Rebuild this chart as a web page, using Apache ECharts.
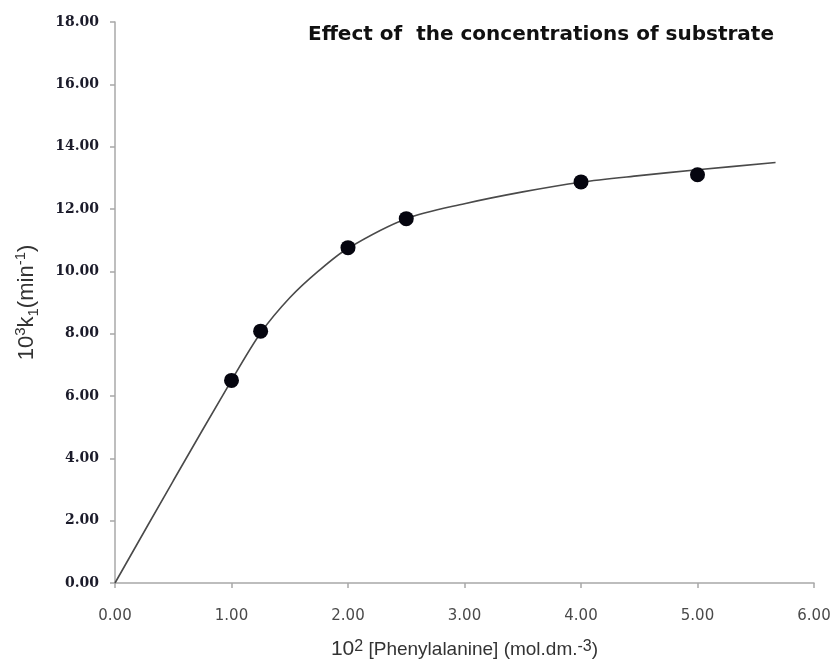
<!DOCTYPE html>
<html>
<head>
<meta charset="utf-8">
<title>Effect of the concentrations of substrate</title>
<script src="https://cdn.jsdelivr.net/npm/echarts@6/dist/echarts.min.js"></script>
<style>
  html, body { margin: 0; padding: 0; background: #fff; }
  #main { width: 835px; height: 661px; }
</style>
</head>
<body>
<div id="main"></div>
<script>
// measured points: 10^2 [Phe] vs 10^3 k1
var obsConc = [1.0, 1.25, 2.0, 2.5, 4.0, 5.0];
var obsRate = [6.50, 8.08, 10.76, 11.69, 12.87, 13.10];

// fitted curve
var fitConc = [0, 0.5, 1.0, 1.25, 1.5, 1.75, 2.0, 2.5, 3.0, 3.5, 4.0, 4.5, 5.0, 5.67];
var fitRate = [0, 3.28, 6.50, 8.02, 9.15, 10.02, 10.74, 11.69, 12.17, 12.55, 12.86, 13.07, 13.26, 13.49];

var chartDom = document.getElementById("main");
var myChart = echarts.init(chartDom);
var option;

var axisGrey = "#a8a8a8";

option = {
  backgroundColor: "#fff",
  animation: false,
  title: {
    text: "Effect of  the concentrations of substrate",
    left: 303,
    top: 20,
    textStyle: {
      fontFamily: "DejaVu Sans",
      fontSize: 20,
      fontWeight: "bold",
      color: "#111",
    },
  },
  grid: {
    left: 115,
    right: 21,
    top: 22,
    bottom: 78,
    outerBoundsMode: "none",
  },
  xAxis: {
    type: "value",
    min: 0,
    max: 6,
    interval: 1,
    splitLine: { show: false },
    axisLine: { lineStyle: { color: axisGrey, width: 1.5 } },
    axisTick: { length: 5, lineStyle: { color: axisGrey, width: 1.5 } },
    axisLabel: {
      margin: 26,
      fontFamily: "DejaVu Sans",
      fontSize: 15,
      color: "#4a4a4a",
      formatter: function (v) { return v.toFixed(2); },
    },
    name: "{big|10}{sup|2}{small| [Phenylalanine] (mol.dm.}{sup|-3}{small|)}",
    nameLocation: "middle",
    nameGap: 56,
    nameTextStyle: {
      rich: {
        big: { fontFamily: "Liberation Sans", fontSize: 21, color: "#333", lineHeight: 20 },
        small: { fontFamily: "Liberation Sans", fontSize: 19, color: "#333", lineHeight: 20, verticalAlign: "bottom" },
        sup: { fontFamily: "Liberation Sans", fontSize: 16, color: "#333", lineHeight: 12, verticalAlign: "top" },
      },
    },
  },
  yAxis: {
    type: "value",
    min: 0,
    max: 18,
    interval: 2,
    splitLine: { show: false },
    axisLine: { show: true, lineStyle: { color: axisGrey, width: 1.5 } },
    axisTick: { show: true, length: 5, lineStyle: { color: axisGrey, width: 1.5 } },
    axisLabel: {
      margin: 16,
      fontFamily: "DejaVu Serif",
      fontWeight: "bold",
      fontSize: 14,
      color: "#1b1b2a",
      formatter: function (v) { return v.toFixed(2); },
    },
    name: "{big|10}{sup|3}{big|k}{sub|1}{big|(min}{sup|-1}{big|)}",
    nameLocation: "middle",
    nameRotate: 90,
    nameGap: 74,
    nameTextStyle: {
      rich: {
        big: { fontFamily: "Liberation Sans", fontSize: 22, color: "#333", lineHeight: 28 },
        sup: { fontFamily: "Liberation Sans", fontSize: 15, color: "#333", lineHeight: 15, verticalAlign: "top" },
        sub: { fontFamily: "Liberation Sans", fontSize: 15, color: "#333", lineHeight: 15, verticalAlign: "bottom" },
      },
    },
  },
  series: [
    {
      name: "fit",
      type: "line",
      smooth: 0.3,
      showSymbol: false,
      data: fitConc.map(function (x, i) { return [x, fitRate[i]]; }),
      lineStyle: { color: "#4a4a4a", width: 1.6 },
      z: 1,
    },
    {
      name: "observed",
      type: "scatter",
      symbol: "circle",
      symbolSize: 15,
      data: obsConc.map(function (x, i) { return [x, obsRate[i]]; }),
      itemStyle: { color: "#05050f", opacity: 1 },
      z: 2,
    },
  ],
};

option && myChart.setOption(option);
</script>
</body>
</html>
